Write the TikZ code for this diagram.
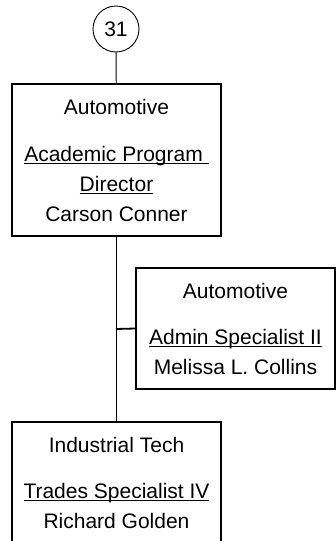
\documentclass[tikz,border=0pt]{standalone}
\usepackage{fontspec}
\setmainfont{Liberation Sans}
\usepackage{tikz}

% underline that sits just below the baseline
\newcommand{\ulbox}[1]{\setbox0\hbox{#1}\rlap{\rule[-2.6pt]{\wd0}{1.1pt}}\box0}

\tikzset{
  orgbox/.style={draw, line width=1.6pt, align=center, inner sep=0pt,
    font=\fontsize{21}{30}\selectfont},
  link/.style={line width=1.8pt}
}

\begin{document}
\begin{tikzpicture}[x=1pt,y=-1pt]
    \useasboundingbox (0,0) rectangle (336,541);
    \clip (0,0) rectangle (336,541);

    \node[draw, circle, line width=0.9pt, minimum size=46pt, inner sep=0pt,
      font=\fontsize{21}{25}\selectfont] (page) at (116,29) {31};

    \node[orgbox, minimum width=209pt, minimum height=152pt] (director) at (116.5,160)
      {Automotive\\[17pt] \ulbox{Academic Program\ }\\ \ulbox{Director}\\ Carson Conner};

    \node[orgbox, minimum width=199pt, minimum height=121pt] (admin) at (235.5,328.5)
      {Automotive\\[16pt] \ulbox{Admin Specialist II}\\ Melissa L. Collins};

    \node[orgbox, minimum width=209pt, minimum height=122pt] (trades) at (116.5,483)
      {Industrial Tech\\[16pt] \ulbox{Trades Specialist IV}\\ Richard Golden};

    \coordinate (branch) at (116,329);

    \draw[line width=0.9pt] (page) -- (director);
    \draw[link] (director) -- (trades);
    \draw[link] (branch) -- (admin.west);
\end{tikzpicture}
\end{document}
